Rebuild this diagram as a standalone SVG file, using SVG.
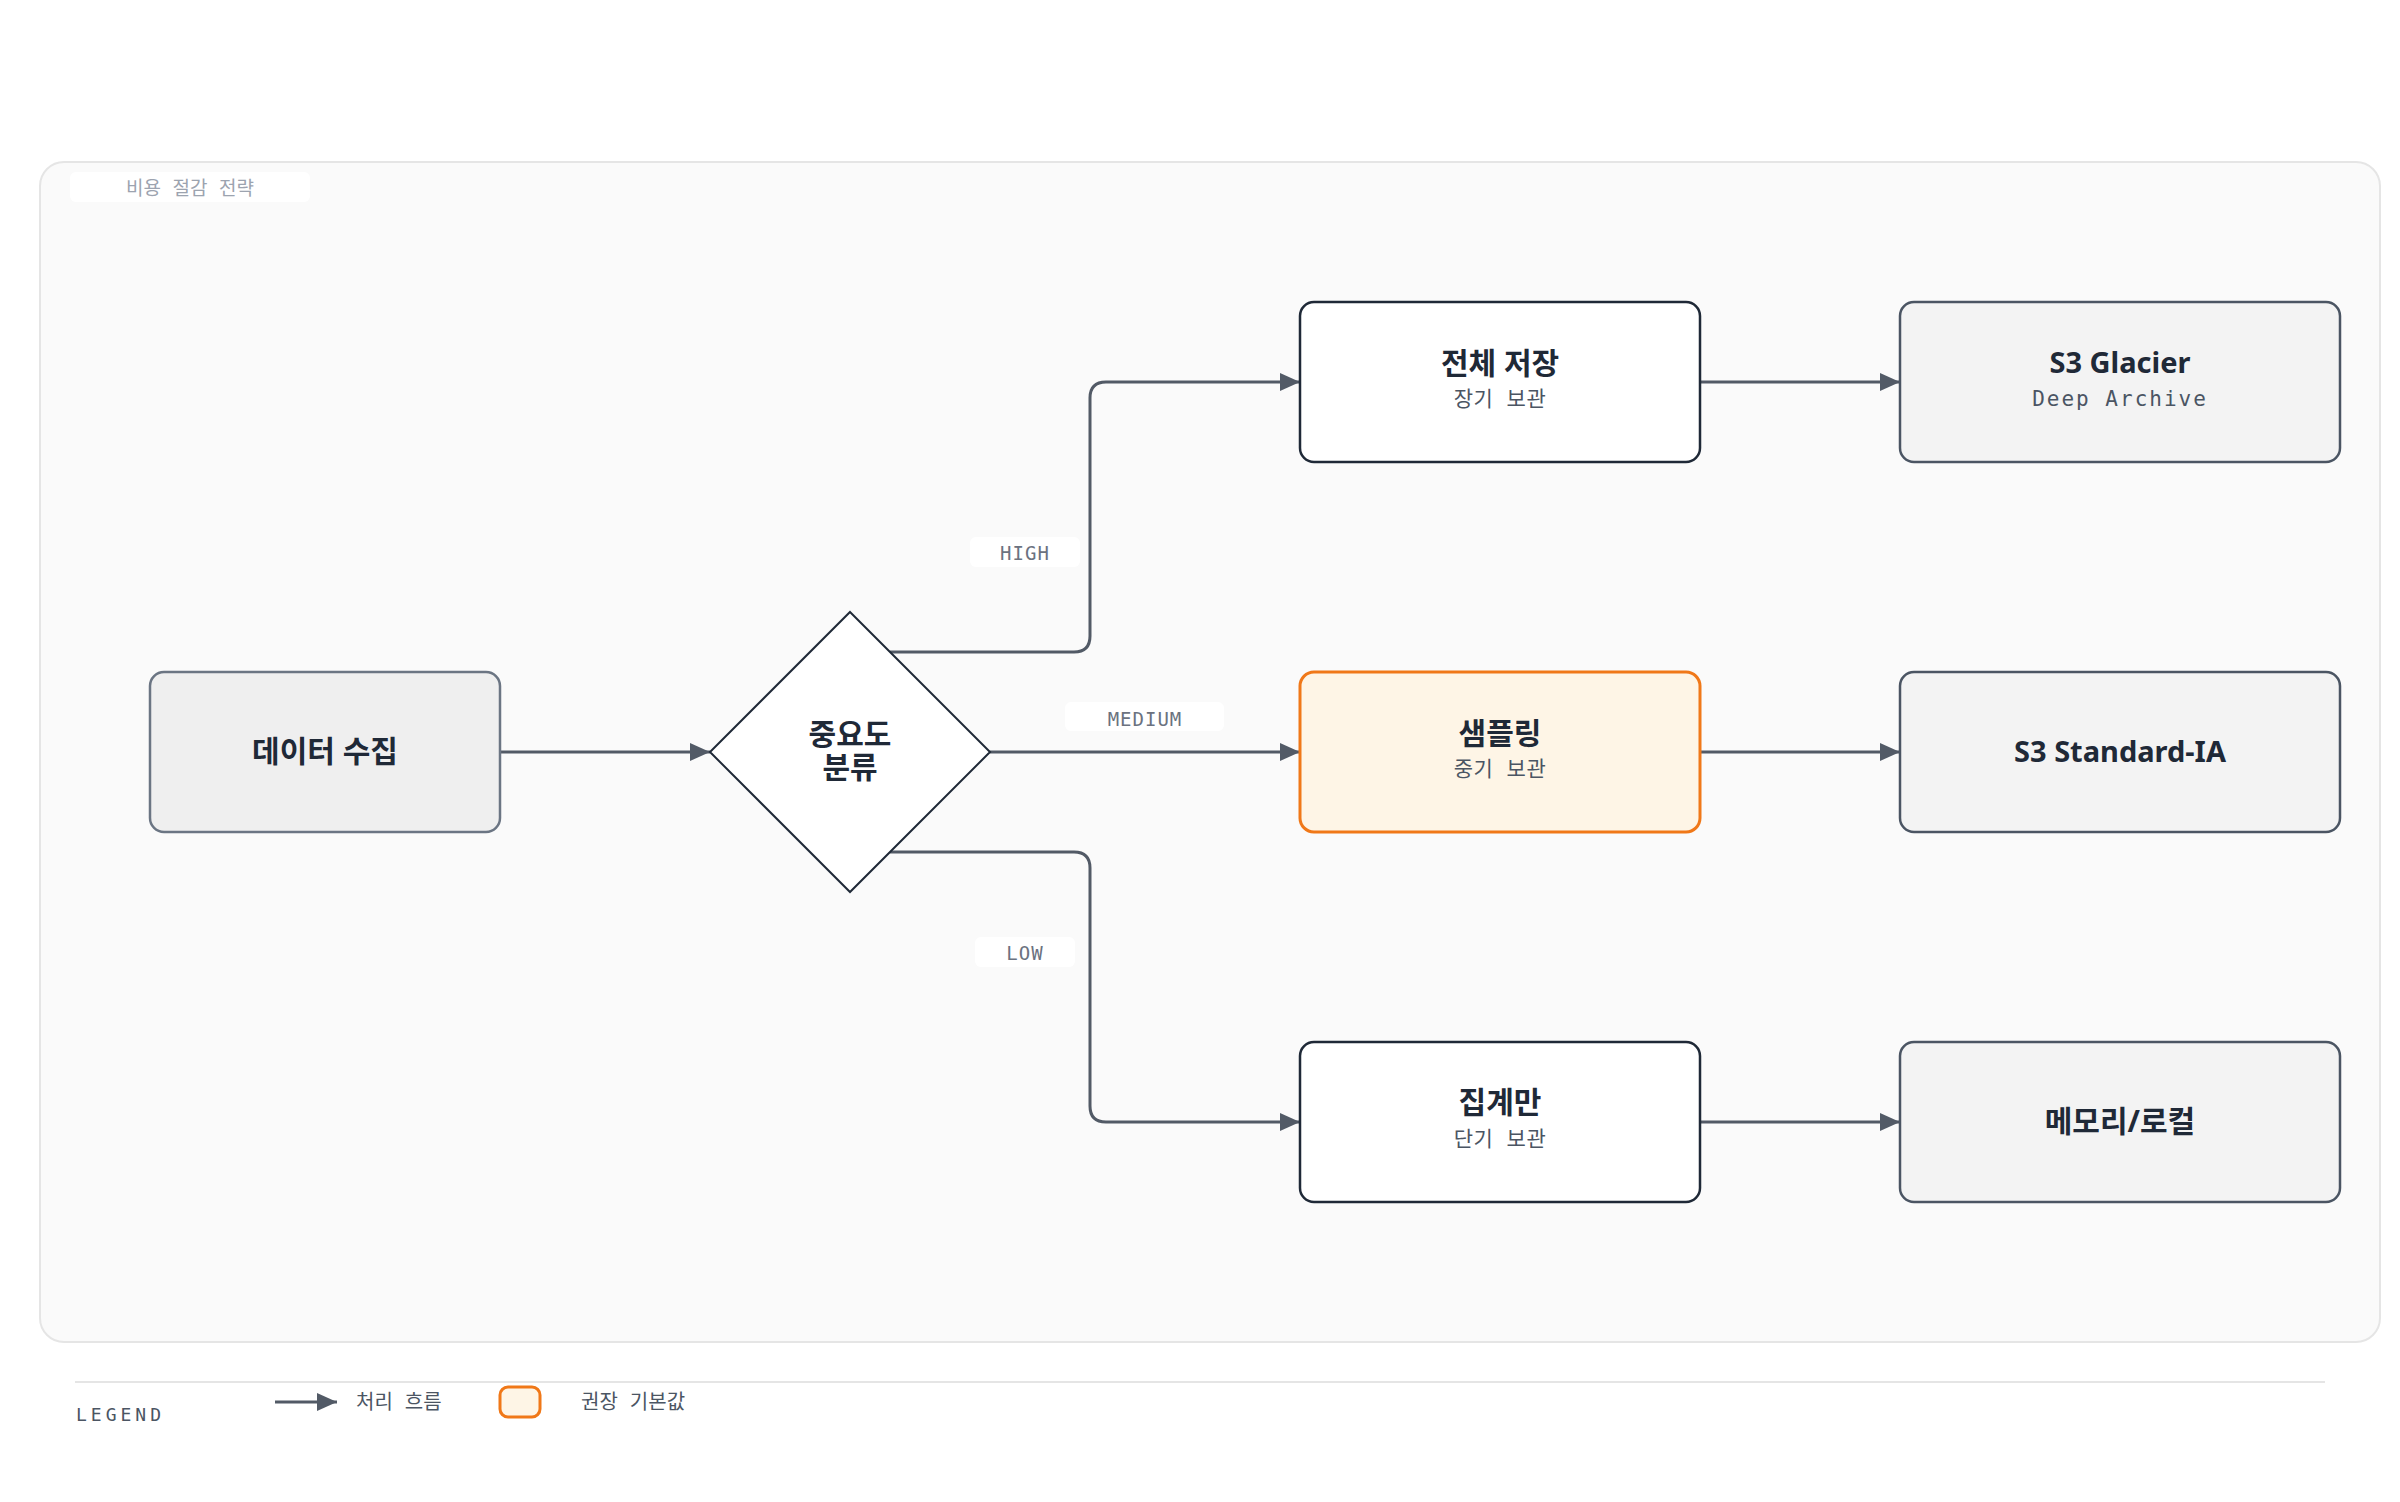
<svg xmlns="http://www.w3.org/2000/svg" width="2400" height="1502" viewBox="0 0 2400 1502">
<defs>
<style>
.title{font-family:"Noto Sans","Noto Sans CJK KR",sans-serif;font-weight:700;font-size:30px;fill:#1f2937;text-anchor:middle}
.lat{font-size:29px}
.sub{font-family:"DejaVu Sans Mono","Noto Sans CJK KR",monospace;font-size:21px;letter-spacing:0.5px;fill:#4b5563;text-anchor:middle}
.lbl{font-family:"DejaVu Sans Mono","Noto Sans CJK KR",monospace;font-size:19px;letter-spacing:1px;fill:#6b7280;text-anchor:middle}
.conn{fill:none;stroke:#525a66;stroke-width:3}
.node{stroke-width:2.5}
.legend{font-family:"DejaVu Sans Mono","Noto Sans CJK KR",monospace;font-size:20px;fill:#4b5563}
</style>
<marker id="ah" viewBox="0 0 20 18" refX="20" refY="9" markerWidth="20" markerHeight="18" markerUnits="userSpaceOnUse" orient="auto">
<path d="M0,0 L20,9 L0,18 z" fill="#525a66"/>
</marker>
</defs>
<rect width="2400" height="1502" fill="#ffffff"/>
<g id="container">
<rect x="40" y="162" width="2340" height="1180" rx="24" fill="#fafafa" stroke="#e5e5e5" stroke-width="2"/>
<rect x="70" y="172" width="240" height="30" rx="6" fill="#ffffff"/>
<text x="190" y="195" font-family="DejaVu Sans Mono,'Noto Sans CJK KR',monospace" font-size="19" fill="#9ca3af" text-anchor="middle">비용 절감 전략</text>
</g>
<g id="connectors">
<path class="conn" d="M500,752 H710" marker-end="url(#ah)"/>
<path class="conn" d="M890,652 H1074 Q1090,652 1090,636 V398 Q1090,382 1106,382 H1300" marker-end="url(#ah)"/>
<path class="conn" d="M990,752 H1300" marker-end="url(#ah)"/>
<path class="conn" d="M890,852 H1074 Q1090,852 1090,868 V1106 Q1090,1122 1106,1122 H1300" marker-end="url(#ah)"/>
<path class="conn" d="M1700,382 H1900" marker-end="url(#ah)"/>
<path class="conn" d="M1700,752 H1900" marker-end="url(#ah)"/>
<path class="conn" d="M1700,1122 H1900" marker-end="url(#ah)"/>
<rect x="970" y="537" width="110" height="30" rx="6" fill="#ffffff"/>
<text class="lbl" x="1025" y="560">HIGH</text>
<rect x="1065" y="702" width="159" height="29" rx="6" fill="#ffffff"/>
<text class="lbl" x="1145" y="726">MEDIUM</text>
<rect x="975" y="937" width="100" height="30" rx="6" fill="#ffffff"/>
<text class="lbl" x="1025" y="960">LOW</text>
</g>
<g id="node-collect">
<rect class="node" x="150" y="672" width="350" height="160" rx="14" fill="#efefef" stroke="#6b7583"/>
<text class="title" x="325" y="762">데이터 수집</text>
</g>
<g id="node-classify">
<polygon points="850,612 990,752 850,892 710,752" fill="#ffffff" stroke="#1f2937" stroke-width="2"/>
<text class="title" x="850" y="745"><tspan x="850" y="745">중요도</tspan><tspan x="850" y="778">분류</tspan></text>
</g>
<g id="node-full">
<rect class="node" x="1300" y="302" width="400" height="160" rx="14" fill="#ffffff" stroke="#1f2937"/>
<text class="title" x="1500" y="374">전체 저장</text>
<text class="sub" x="1500" y="406">장기 보관</text>
</g>
<g id="node-sampling">
<rect x="1300" y="672" width="400" height="160" rx="14" fill="#fef5e6" stroke="#f07818" stroke-width="3"/>
<text class="title" x="1500" y="744">샘플링</text>
<text class="sub" x="1500" y="776">중기 보관</text>
</g>
<g id="node-aggregate">
<rect class="node" x="1300" y="1042" width="400" height="160" rx="14" fill="#ffffff" stroke="#1f2937"/>
<text class="title" x="1500" y="1113">집계만</text>
<text class="sub" x="1500" y="1146">단기 보관</text>
</g>
<g id="node-glacier">
<rect class="node" x="1900" y="302" width="440" height="160" rx="14" fill="#f3f3f3" stroke="#4b5563"/>
<text class="title lat" x="2120" y="373">S3 Glacier</text>
<text class="sub" x="2120" y="406" style="font-size:21px;letter-spacing:2px">Deep Archive</text>
</g>
<g id="node-standard-ia">
<rect class="node" x="1900" y="672" width="440" height="160" rx="14" fill="#f3f3f3" stroke="#4b5563"/>
<text class="title lat" x="2120" y="762">S3 Standard-IA</text>
</g>
<g id="node-memory">
<rect class="node" x="1900" y="1042" width="440" height="160" rx="14" fill="#f3f3f3" stroke="#4b5563"/>
<text class="title" x="2120" y="1132">메모리/로컬</text>
</g>
<g id="legend">
<line x1="75" y1="1382" x2="2325" y2="1382" stroke="#e5e5e5" stroke-width="2"/>
<text class="legend" x="76" y="1421" style="font-size:18px;letter-spacing:4px">LEGEND</text>
<line x1="275" y1="1402" x2="337" y2="1402" class="conn" marker-end="url(#ah)"/>
<text class="legend" x="356" y="1409">처리 흐름</text>
<rect x="500" y="1387" width="40" height="30" rx="8" fill="#fef5e6" stroke="#f07818" stroke-width="3"/>
<text class="legend" x="581" y="1409">권장 기본값</text>
</g>
</svg>
